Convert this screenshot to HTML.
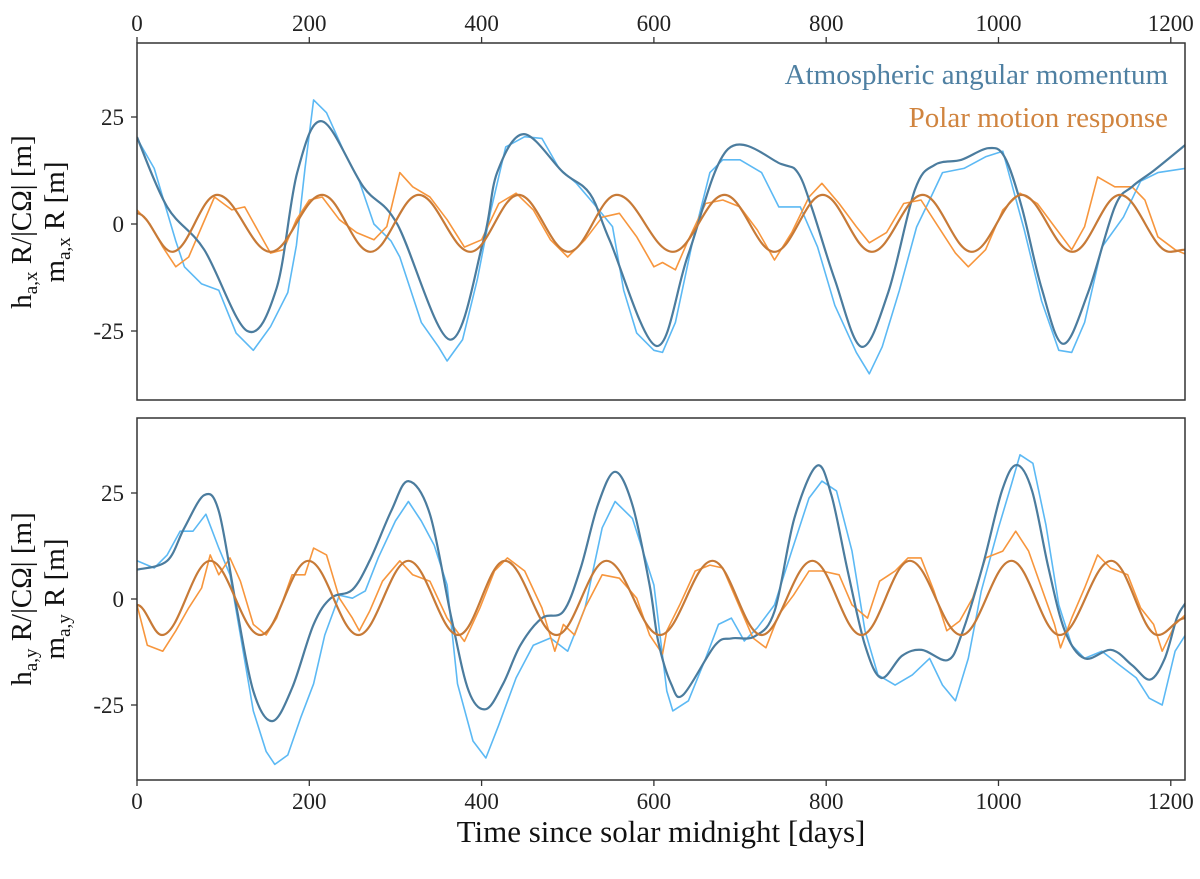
<!DOCTYPE html>
<html><head><meta charset="utf-8"><style>
body{margin:0;background:#fff;}
svg{display:block;font-family:"Liberation Serif",serif;}
</style></head><body>
<svg id="chart" width="1200" height="879" viewBox="0 0 1200 879">
<rect x="0" y="0" width="1200" height="879" fill="#fff"/>
<g font-size="29" fill="#111">
<text transform="translate(31,222) rotate(-90)" text-anchor="middle">h<tspan font-size="19" dy="6">a,x</tspan><tspan dy="-6"> R/|CΩ| [m]</tspan></text>
<text transform="translate(64,222) rotate(-90)" text-anchor="middle">m<tspan font-size="19" dy="6">a,x</tspan><tspan dy="-6"> R [m]</tspan></text>
</g>
<g font-size="29" fill="#111">
<text transform="translate(31,599) rotate(-90)" text-anchor="middle">h<tspan font-size="19" dy="6">a,y</tspan><tspan dy="-6"> R/|CΩ| [m]</tspan></text>
<text transform="translate(64,599) rotate(-90)" text-anchor="middle">m<tspan font-size="19" dy="6">a,y</tspan><tspan dy="-6"> R [m]</tspan></text>
</g>
<text x="661" y="842" text-anchor="middle" font-size="31" fill="#111">Time since solar midnight [days]</text>
<text x="1168" y="84" text-anchor="end" font-size="29" fill="#4f80a2">Atmospheric angular momentum</text>
<text x="1168" y="127" text-anchor="end" font-size="29" fill="#d0843f">Polar motion response</text>
</svg>
<script>
// ---- data: top panel (x component) ----
const topAamSmoothDays=[0,35,78,128,162,186,215,263,302,363,402,418,449,495,526,549,603,640,686,748,767,783,810,841,872,903,926,957,988,1007,1027,1050,1075,1104,1135,1155,1181,1217];
const topAamSmoothVals=[20.3,4,-6,-25,-15,12,24,8.6,0,-27,-4,12,21,12,7,-4,-28.5,-7,17.5,14,12,4,-13,-28.7,-16,8,13.8,15,17.7,15.7,4,-15,-28,-16,4,8.7,12.6,18.5];
const topAamNoisyDays=[0,20,45,55,75,95,115,135,155,175,185,195,205,220,240,258,275,295,305,330,350,360,378,395,410,428,450,470,490,510,530,552,565,580,600,610,625,645,665,680,700,725,745,770,790,810,835,850,865,885,905,920,935,960,985,1005,1030,1050,1070,1085,1100,1120,1145,1165,1185,1217];
const topAamNoisyVals=[20,13,-4,-10,-14,-15.5,-25.5,-29.5,-24,-16,-5,13,29,26,17,10,0,-4,-7.7,-23,-28.7,-32,-27,-13,2.5,18,20.4,20,13,9.5,4.8,-0.6,-15.5,-25.5,-29.5,-30,-23,-4,12,15,15,12,4,4,-5.4,-19,-30,-35,-28.7,-15.5,-0.7,5.6,12,13,15.7,17,-1.4,-18,-29.5,-30,-23,-5.4,1.6,10,12,13];
const topPmSmoothDays=[0,41,93,155,215,271,327,387,443,501,557,622,682,740,796,853,912,969,1027,1086,1141,1199,1217];
const topPmSmoothVals=[2.5,-6.5,6.8,-6.5,6.8,-6.5,6.8,-6.5,6.8,-6.5,6.8,-6.5,6.8,-6.5,6.8,-6.5,6.8,-6.5,6.8,-6.5,6.8,-6.5,-6];
const topPmNoisyDays=[0,15,30,45,60,75,90,110,125,140,155,170,185,200,215,235,255,275,290,305,320,340,360,380,400,420,440,460,480,500,520,540,560,580,600,610,625,640,660,680,700,720,740,760,780,795,815,835,850,870,890,910,930,950,965,985,1005,1025,1045,1065,1085,1100,1115,1135,1155,1170,1185,1205,1217];
const topPmNoisyVals=[3.3,0,-5.4,-10,-7.7,-0.7,6.3,3.3,4,-1.4,-6.8,-6,1,5.6,6.3,1,-2,-3.7,-0.6,12,8.7,6.3,1,-5.4,-3.7,4.8,7.2,3.3,-3.7,-7.7,-3.7,1.6,2.5,-3,-10,-9,-10.7,-3.7,4.8,5.6,4,-1.4,-8.4,-2,6.3,9.5,4.8,-0.6,-4.4,-2,4.8,5.6,-0.6,-6.8,-10,-6,3.3,7.2,4.8,-0.6,-6,-0.6,11,8.7,8.7,5.6,-3,-6,-7];
// ---- data: bottom panel (y component) ----
const botAamSmoothDays=[0,35,55,78,95,115,135,157,180,205,225,250,270,295,315,340,365,385,405,425,445,470,495,515,535,555,575,595,605,620,634,671,690,717,740,763,789,806,825,845,864,888,911,941,957,981,1004,1021,1039,1058,1077,1100,1131,1155,1176,1193,1207,1217];
const botAamSmoothVals=[6.9,9,16.8,24.5,20.7,-1.4,-21.7,-28.8,-21,-6,0.2,2.2,9,20.7,27.8,20,-4.5,-21.7,-26,-20,-10.9,-4.5,-2.9,7.3,22.2,30,22.2,3.3,-10,-20,-22.6,-10.9,-9.3,-8.8,-2.9,19,31.4,24.5,6.6,-10.9,-18.6,-13.4,-12,-14.4,-8.5,7.3,25.5,31.6,25.5,7.3,-7.5,-14,-12,-15.6,-19,-14,-4.5,-1];
const botAamNoisyDays=[0,20,35,50,65,80,95,108,120,135,150,160,175,190,205,218,235,250,265,280,300,315,330,345,360,372,390,405,420,440,460,480,500,520,540,555,575,600,615,622,640,660,675,690,705,720,740,760,780,795,812,830,845,860,880,900,920,935,950,965,980,1000,1015,1025,1040,1055,1070,1085,1100,1120,1140,1160,1175,1190,1205,1217];
const botAamNoisyVals=[9,7.3,10.4,16,16,20,12,5.7,-8.5,-26.4,-36,-39,-36.8,-28,-20,-8.5,0.9,0.2,1.9,9.7,18.4,23,18.4,12.7,3.3,-20,-33.5,-37.5,-29.7,-18.6,-10.9,-9.2,-12.3,-2.1,16.8,23,19,3.3,-21.7,-26.4,-24,-14,-6,-4.5,-9.9,-6.8,-1.4,11.3,23.8,27.8,25.5,11.3,-7.5,-17.9,-20.3,-17.9,-14,-20.3,-24,-14,1.9,16.8,27,34,32,17.5,-1.4,-10.9,-14,-12.3,-15.5,-18.6,-23.4,-25,-12.3,-8.5];
const botPmSmoothDays=[0,29,85,143,199,257,315,373,427,487,545,607,668,725,784,841,897,957,1015,1071,1131,1185,1217];
const botPmSmoothVals=[-1.4,-8.5,9,-8.5,9,-8.5,9,-8.5,9,-8.5,9,-8.5,9,-8.5,9,-8.5,9,-8.5,9,-8.5,9,-8.5,-4.5];
const botPmNoisyDays=[0,12,30,45,60,75,85,95,108,120,135,150,162,180,195,205,220,235,250,258,270,285,305,320,340,360,380,398,415,430,450,470,485,495,508,520,540,560,580,595,610,615,630,648,665,680,700,715,730,745,762,780,795,815,830,848,862,880,895,910,925,940,955,970,985,1005,1020,1035,1050,1065,1072,1085,1100,1115,1130,1150,1165,1180,1190,1205,1217];
const botPmNoisyVals=[-1.4,-10.9,-12.3,-7.5,-2.1,2.6,10.4,5.7,9.7,4.2,-6,-8.5,-4.5,5.7,5.7,12,10.4,0.2,-4.5,-7.5,-2.9,4.2,9,5.7,4.2,-4.5,-10,-2.1,6.6,9.7,6.6,-2.1,-12.3,-6,-8.5,-2.1,5.7,4.9,0.2,-8.5,-13,-7.5,-1.4,6.6,8,7.3,-2.1,-9.2,-11.5,-3.7,0.9,6.6,6.6,5.7,-1.4,-4.5,4.2,6.6,9.7,9.7,1.9,-7.5,-5.2,0.2,9.7,11.3,16,11.3,2.6,-6,-11.5,-4.5,2.6,10.4,7.3,5.7,-2.1,-6,-12.3,-6,-3.7];
const xTicks=[0,200,400,600,800,1000,1200];
const yTicks=[25,0,-25];

// ---- layout ----
const NS='http://www.w3.org/2000/svg';
const svg=document.getElementById('chart');
const X0=137,X1=1185,D0=0,D1=1216.5;
const xs=d=>X0+(d-D0)/(D1-D0)*(X1-X0);
const panels=[
 {name:'top',y0:43,y1:400,zero:224,k:4.28},
 {name:'bottom',y0:418,y1:780,zero:599,k:4.24}
];
function mk(tag,attrs,parent){const e=document.createElementNS(NS,tag);for(const a in attrs)e.setAttribute(a,attrs[a]);(parent||svg).appendChild(e);return e;}
function catmull(pts){let d='M'+pts[0][0].toFixed(1)+','+pts[0][1].toFixed(1);
 for(let i=0;i<pts.length-1;i++){const p0=pts[i-1]||pts[i],p1=pts[i],p2=pts[i+1],p3=pts[i+2]||p2;
  const c1=[p1[0]+(p2[0]-p0[0])/6,p1[1]+(p2[1]-p0[1])/6],c2=[p2[0]-(p3[0]-p1[0])/6,p2[1]-(p3[1]-p1[1])/6];
  d+='C'+c1[0].toFixed(1)+','+c1[1].toFixed(1)+' '+c2[0].toFixed(1)+','+c2[1].toFixed(1)+' '+p2[0].toFixed(1)+','+p2[1].toFixed(1);}
 return d;}
function cosPath(pts){let d='M'+pts[0][0].toFixed(1)+','+pts[0][1].toFixed(1);
 for(let i=0;i<pts.length-1;i++){const a=pts[i],b=pts[i+1],dx=(b[0]-a[0])*0.3642;
  d+='C'+(a[0]+dx).toFixed(1)+','+a[1].toFixed(1)+' '+(b[0]-dx).toFixed(1)+','+b[1].toFixed(1)+' '+b[0].toFixed(1)+','+b[1].toFixed(1);}
 return d;}
function linPath(pts){return 'M'+pts.map(p=>p[0].toFixed(1)+','+p[1].toFixed(1)).join('L');}

const series=[
 [topAamNoisyDays,topAamNoisyVals,botAamNoisyDays,botAamNoisyVals,'#5cb9f4',1.6,linPath,'aam-noisy-line'],
 [topPmNoisyDays,topPmNoisyVals,botPmNoisyDays,botPmNoisyVals,'#f7963d',1.6,linPath,'polar-motion-noisy-line'],
 [topAamSmoothDays,topAamSmoothVals,botAamSmoothDays,botAamSmoothVals,'#4b7c9e',2.2,catmull,'aam-smooth-line'],
 [topPmSmoothDays,topPmSmoothVals,botPmSmoothDays,botPmSmoothVals,'#c77a37',2.2,cosPath,'polar-motion-smooth-line']
];

panels.forEach((p,pi)=>{
 const ys=v=>p.zero-v*p.k;
 const clipId='clip'+pi;
 const cp=mk('clipPath',{id:clipId});mk('rect',{x:X0,y:p.y0,width:X1-X0,height:p.y1-p.y0},cp);
 const g=mk('g',{'clip-path':'url(#'+clipId+')'});
 
 
 series.forEach(s=>{
  const days=pi?s[2]:s[0],vals=pi?s[3]:s[1];
  const pts=days.map((d,i)=>[xs(d),ys(vals[i])]);
  const path=mk('path',{d:s[6](pts),fill:'none',stroke:s[4],'stroke-width':s[5],'stroke-linejoin':'round'},g);
  
  
 });
 const fr=mk('rect',{x:X0,y:p.y0,width:X1-X0,height:p.y1-p.y0,fill:'none',stroke:'#333','stroke-width':1.5});
 
 
 yTicks.forEach(t=>{
  const y=ys(t);
  mk('line',{x1:X0-6,x2:X0,y1:y,y2:y,stroke:'#333','stroke-width':1.3});
  const tx=mk('text',{x:X0-13,y:y+8,'text-anchor':'end','font-size':23,fill:'#222'});
  tx.textContent=t;
  
  
 });
 xTicks.forEach(t=>{
  const x=xs(t);
  if(pi===0){mk('line',{x1:x,x2:x,y1:p.y0-6,y2:p.y0,stroke:'#333','stroke-width':1.3});
   const tx=mk('text',{x:x,y:p.y0-12,'text-anchor':'middle','font-size':23,fill:'#222'});tx.textContent=t;
   
   }
  else{mk('line',{x1:x,x2:x,y1:p.y1,y2:p.y1+6,stroke:'#333','stroke-width':1.3});
   const tx=mk('text',{x:x,y:p.y1+29,'text-anchor':'middle','font-size':23,fill:'#222'});tx.textContent=t;
   
   }
 });
});
</script>
</body></html>
